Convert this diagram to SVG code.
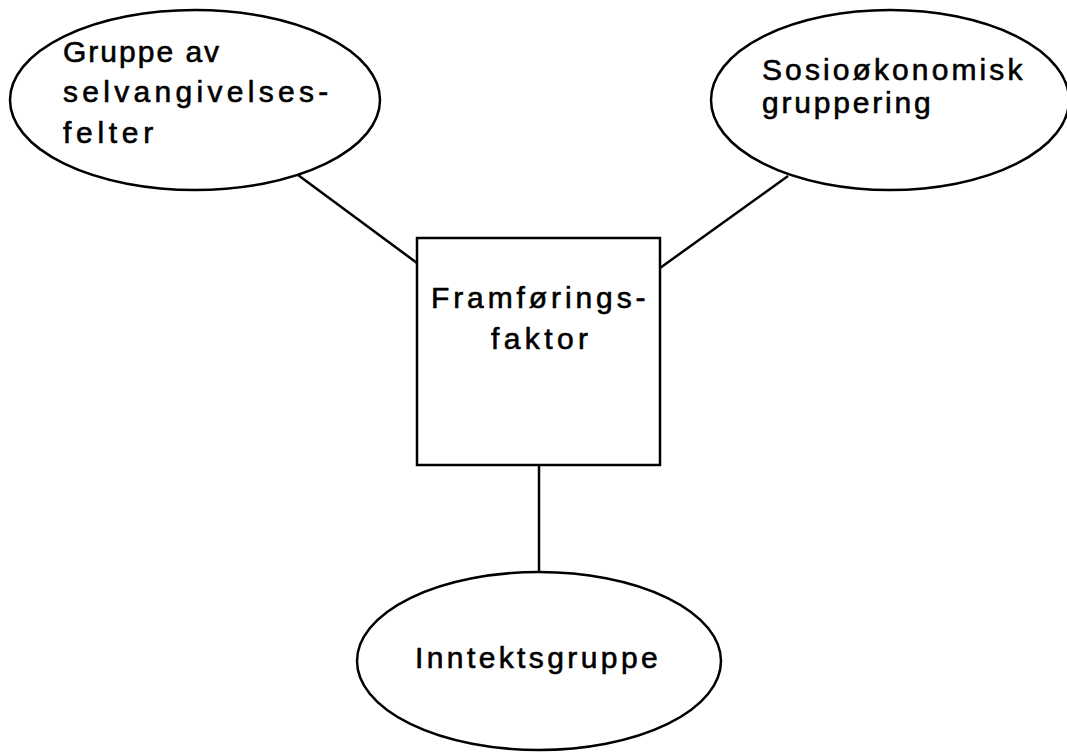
<svg xmlns="http://www.w3.org/2000/svg" width="1067" height="753" viewBox="0 0 1067 753">
<style>
.shape{fill:#fff;stroke:#000;stroke-width:2.5}
.conn{stroke:#000;stroke-width:2.5;fill:none}
.lbl{font-family:"Liberation Sans",Arial,sans-serif;font-size:30px;fill:#000;stroke:#000;stroke-width:0.6}
</style>
<rect width="1067" height="753" fill="#fff"/>
<g id="connectors">
<line class="conn" x1="298" y1="175" x2="417" y2="263"/>
<line class="conn" x1="788" y1="176" x2="660" y2="268"/>
<line class="conn" x1="539" y1="465" x2="539" y2="572"/>
</g>
<g id="node-gruppe">
<ellipse class="shape" cx="195" cy="100" rx="185" ry="90"/>
<text class="lbl" x="63" y="62" letter-spacing="2">Gruppe av</text>
<text class="lbl" x="63" y="102" letter-spacing="4.3">selvangivelses-</text>
<text class="lbl" x="63" y="143" letter-spacing="4.7">felter</text>
</g>
<g id="node-sosio">
<ellipse class="shape" cx="890" cy="100" rx="179" ry="90"/>
<text class="lbl" x="762" y="80" letter-spacing="3.1">Sosioøkonomisk</text>
<text class="lbl" x="762" y="113" letter-spacing="2.8">gruppering</text>
</g>
<g id="node-framforing">
<rect class="shape" x="417" y="238" width="243" height="227"/>
<text class="lbl" x="431" y="308" letter-spacing="3.9">Framførings-</text>
<text class="lbl" x="491" y="349" letter-spacing="4.4">faktor</text>
</g>
<g id="node-inntekt">
<ellipse class="shape" cx="539" cy="661" rx="182" ry="89"/>
<text class="lbl" x="415" y="668" letter-spacing="3.4">Inntektsgruppe</text>
</g>
</svg>
